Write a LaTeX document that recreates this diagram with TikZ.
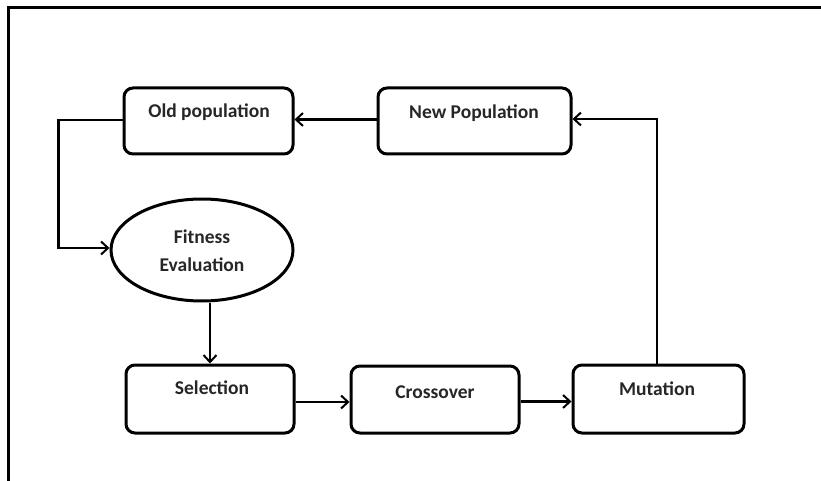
\documentclass[tikz,border=0pt]{standalone}
\usepackage{fontspec}
\setmainfont{Carlito}
\usetikzlibrary{arrows.meta,shapes.geometric}
\begin{document}
\begin{tikzpicture}[x=1pt,y=-1pt,
  box/.style={draw,line width=3pt,rounded corners=9pt,inner sep=0pt},
  oval/.style={draw,ellipse,line width=3pt,inner sep=0pt},
  lbl/.style={font=\bfseries\fontsize{19.5}{22}\selectfont,text=black!85,inner sep=0pt},
  conn/.style={line width=2.6pt,-{Straight Barb[length=7pt,width=13pt,line width=2pt]}}]
\useasboundingbox (0,0) rectangle (821,481);
\coordinate (fa) at (8,481);
\coordinate (fb) at (8,8);
\coordinate (fc) at (821,8);
\draw[line width=3pt] (fa) -- (fb) -- (fc);
% boxes
\node[box,minimum width=169pt,minimum height=66pt] (old) at (208.5,121) {};
\node[box,minimum width=193pt,minimum height=66pt] (new) at (474.5,121) {};
\node[oval,minimum width=182pt,minimum height=102pt] (fit) at (202,250) {};
\node[box,minimum width=168pt,minimum height=68pt] (sel) at (210,399) {};
\node[box,minimum width=168pt,minimum height=67pt] (cross) at (435,399.5) {};
\node[box,minimum width=171pt,minimum height=68pt] (mut) at (658.5,399) {};
% labels
\node[lbl] (oldt) at (209,112) {Old population};
\node[lbl] (newt) at (474,113) {New Population};
\node[lbl] (fitt1) at (202,237) {Fitness};
\node[lbl] (fitt2) at (202,265) {Evaluation};
\node[lbl] (selt) at (212,388) {Selection};
\node[lbl] (crosst) at (435,392) {Crossover};
\node[lbl] (mutt) at (657,389) {Mutation};
% connectors
\draw[conn] ([yshift=1.5pt]new.west) -- ([yshift=1.5pt]old.east);
\draw[conn] ([yshift=1pt]old.west) -- ++(-64,0) |- ([yshift=2pt]fit.west);
\draw[conn] (fit.south -| sel.north) -- (sel.north);
\draw[conn] ([yshift=-3pt]sel.east) -- ([yshift=-3pt]sel.east -| cross.west);
\draw[conn] ([yshift=-2pt]cross.east) -- ([yshift=-2pt]cross.east -| mut.west);
\draw[conn] ([xshift=-1.5pt]mut.north) |- ([yshift=2pt]new.east);
\end{tikzpicture}
\end{document}
